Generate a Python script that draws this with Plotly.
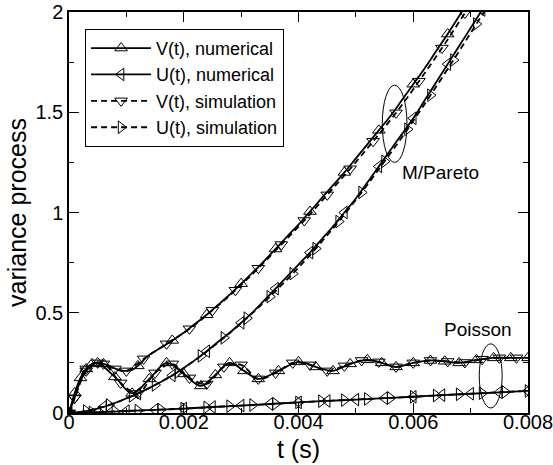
import numpy as np
import plotly.graph_objects as go

# ---------------- data ----------------
# M/Pareto, V(t) numerical
t_par_v_num = [0, 0.0001, 0.0002, 0.0003, 0.0004, 0.0005, 0.0006, 0.0007, 0.0008, 0.0009,
               0.0010, 0.0011, 0.0012, 0.0014, 0.0016, 0.0018, 0.0020, 0.0022, 0.0024,
               0.0026, 0.0028, 0.0030, 0.0032, 0.0034, 0.0036, 0.0038, 0.0040, 0.0042,
               0.0044, 0.0046, 0.0048, 0.0050, 0.0052, 0.0054, 0.0056, 0.0058, 0.0060,
               0.0062, 0.0064, 0.0066, 0.0068, 0.0070]
v_par_num = [0.0, 0.08, 0.16, 0.21, 0.24, 0.25, 0.245, 0.235, 0.222, 0.213,
             0.21, 0.215, 0.235, 0.29, 0.325, 0.362, 0.40, 0.445, 0.49,
             0.54, 0.59, 0.645, 0.70, 0.758, 0.818, 0.88, 0.94, 1.005,
             1.07, 1.135, 1.20, 1.27, 1.34, 1.41, 1.48, 1.56, 1.64,
             1.72, 1.805, 1.89, 1.98, 2.07]

# M/Pareto, V(t) simulation
t_par_v_sim = [0, 0.0001, 0.0003, 0.0005, 0.0008, 0.0010, 0.0013, 0.0017, 0.0021, 0.0025,
               0.0029, 0.0033, 0.0037, 0.0041, 0.0045, 0.0049, 0.0053, 0.0057, 0.0061,
               0.0065, 0.0069, 0.0073]
v_par_sim = [0.0, 0.075, 0.21, 0.25, 0.22, 0.21, 0.27, 0.345, 0.42, 0.512,
             0.612, 0.722, 0.84, 0.96, 1.088, 1.218, 1.355, 1.497, 1.655,
             1.82, 1.995, 2.17]

# M/Pareto, U(t) numerical
t_par_u_num = [0, 0.0002, 0.0004, 0.0006, 0.0008, 0.0010, 0.0012, 0.0014, 0.0016, 0.0018,
               0.0020, 0.0022, 0.0024, 0.0026, 0.0028, 0.0030, 0.0032, 0.0034, 0.0036,
               0.0038, 0.0040, 0.0042, 0.0044, 0.0046, 0.0048, 0.0050, 0.0052, 0.0054,
               0.0056, 0.0058, 0.0060, 0.0062, 0.0064, 0.0066, 0.0068, 0.0070, 0.0072]
u_par_num = [0.0, 0.005, 0.015, 0.03, 0.05, 0.073, 0.097, 0.125, 0.155, 0.187,
             0.225, 0.265, 0.308, 0.355, 0.40, 0.45, 0.502, 0.56, 0.62,
             0.68, 0.74, 0.80, 0.865, 0.93, 1.0, 1.07, 1.15, 1.23,
             1.31, 1.39, 1.47, 1.56, 1.65, 1.74, 1.83, 1.92, 2.01]

# M/Pareto, U(t) simulation
t_par_u_sim = [0, 0.0003, 0.0007, 0.0011, 0.0015, 0.0019, 0.0023, 0.0027, 0.0031, 0.0035,
               0.0039, 0.0043, 0.0047, 0.0051, 0.0055, 0.0059, 0.0063, 0.0067, 0.0071, 0.0075]
u_par_sim = [0.0, 0.01, 0.04, 0.085, 0.14, 0.205, 0.285, 0.375, 0.473, 0.58,
             0.695, 0.82, 0.955, 1.10, 1.255, 1.415, 1.585, 1.76, 1.94, 2.12]

# Poisson, V(t) numerical
t_poi_v_num = [0, 0.0001, 0.0002, 0.0003, 0.0004, 0.0005, 0.0008, 0.0011, 0.0014, 0.0017,
               0.0020, 0.0023, 0.00255, 0.0028, 0.00305, 0.0033, 0.00365, 0.0040, 0.0043,
               0.0046, 0.0049, 0.0052, 0.00545, 0.0057, 0.0060, 0.0063, 0.00655, 0.0068,
               0.0071, 0.0074, 0.0077, 0.0080]
v_poi_num = [0.0, 0.10, 0.175, 0.22, 0.245, 0.25, 0.18, 0.098, 0.17, 0.25,
             0.195, 0.135, 0.19, 0.25, 0.21, 0.17, 0.21, 0.255, 0.23,
             0.21, 0.245, 0.265, 0.25, 0.23, 0.25, 0.262, 0.258, 0.25,
             0.265, 0.275, 0.275, 0.275]

# Poisson, V(t) simulation
t_poi_v_sim = [0, 0.0001, 0.0003, 0.0006, 0.0009, 0.0012, 0.0015, 0.0018, 0.0021, 0.0024,
               0.0027, 0.0030, 0.0033, 0.0036, 0.0039, 0.0042, 0.0045, 0.0048, 0.0051,
               0.0054, 0.0057, 0.0060, 0.0063, 0.0066, 0.0069, 0.0072, 0.0075, 0.0078]
v_poi_sim = [0.0, 0.075, 0.22, 0.245, 0.15, 0.097, 0.20, 0.245, 0.175, 0.145,
             0.23, 0.24, 0.17, 0.20, 0.25, 0.24, 0.21, 0.235, 0.262,
             0.255, 0.23, 0.25, 0.262, 0.257, 0.252, 0.268, 0.275, 0.275]

# Poisson, U(t) numerical
t_poi_u_num = [0, 0.0005, 0.0010, 0.0015, 0.0020, 0.0025, 0.0030, 0.0035, 0.0040,
               0.0045, 0.0050, 0.0055, 0.0060, 0.0065, 0.0070, 0.0075, 0.0080]
u_poi_num = [0.0, 0.004, 0.010, 0.016, 0.022, 0.030, 0.037, 0.045, 0.053,
             0.060, 0.067, 0.074, 0.081, 0.089, 0.096, 0.103, 0.110]

# Poisson, U(t) simulation
t_poi_u_sim = [0, 0.0004, 0.0008, 0.0012, 0.0016, 0.0020, 0.0024, 0.0028, 0.0032, 0.0036,
               0.0040, 0.0044, 0.0048, 0.0052, 0.0056, 0.0060, 0.0064, 0.0068, 0.0072,
               0.0076, 0.0080]
u_poi_sim = [0.0, 0.003, 0.008, 0.012, 0.017, 0.022, 0.028, 0.034, 0.040, 0.046,
             0.053, 0.059, 0.064, 0.070, 0.075, 0.081, 0.087, 0.093, 0.099,
             0.105, 0.110]

legend_names = ["V(t), numerical", "U(t), numerical", "V(t), simulation", "U(t), simulation"]

# ---------------- figure ----------------
FONT = "Liberation Sans, Arial, Helvetica, sans-serif"
fig = go.Figure()

SYM = {
    "v_num": "triangle-up-open",
    "u_num": "triangle-left-open",
    "v_sim": "triangle-down-open",
    "u_sim": "triangle-right-open",
}
DASH = {"num": "solid", "sim": "6px,4px"}
MSIZE = 11


def add_series(t, y, kind, style, marker_step_t=None):
    t = np.asarray(t, dtype=float)
    y = np.asarray(y, dtype=float)
    fig.add_trace(go.Scatter(
        x=t, y=y, mode="lines", showlegend=False, hoverinfo="skip",
        line=dict(color="black", width=1.8, dash=DASH[style], shape="spline", smoothing=1.0),
    ))
    if marker_step_t:
        q = t / marker_step_t
        mask = np.abs(q - np.round(q)) < 1e-6
    else:
        mask = np.ones_like(t, dtype=bool)
    fig.add_trace(go.Scatter(
        x=t[mask], y=y[mask], mode="markers", showlegend=False,
        marker=dict(symbol=SYM[kind], size=MSIZE, color="black", line=dict(width=1, color="black")),
    ))


add_series(t_par_v_num, v_par_num, "v_num", "num", 0.0006)
add_series(t_par_u_num, u_par_num, "u_num", "num", 0.0006)
add_series(t_par_v_sim, v_par_sim, "v_sim", "sim")
add_series(t_par_u_sim, u_par_sim, "u_sim", "sim")
add_series(t_poi_v_num, v_poi_num, "v_num", "num")
add_series(t_poi_u_num, u_poi_num, "u_num", "num")
add_series(t_poi_v_sim, v_poi_sim, "v_sim", "sim")
add_series(t_poi_u_sim, u_poi_sim, "u_sim", "sim")

# legend entries
for name, kind, style in zip(legend_names,
                             ["v_num", "u_num", "v_sim", "u_sim"],
                             ["num", "num", "sim", "sim"]):
    fig.add_trace(go.Scatter(
        x=[None], y=[None], mode="lines+markers", name=name,
        line=dict(color="black", width=1.8, dash=DASH[style]),
        marker=dict(symbol=SYM[kind], size=MSIZE, color="black", line=dict(width=1, color="black")),
    ))

# ellipses and labels
fig.add_shape(type="circle", xref="x", yref="y", x0=0.00546, x1=0.00589, y0=1.25, y1=1.635,
              line=dict(color="black", width=1))
fig.add_shape(type="circle", xref="x", yref="y", x0=0.00715, x1=0.00755, y0=0.025, y1=0.345,
              line=dict(color="black", width=1))
fig.add_annotation(x=0.00648, y=1.2, text="M/Pareto", showarrow=False,
                   font=dict(family=FONT, size=19, color="black"))
fig.add_annotation(x=0.00713, y=0.415, text="Poisson", showarrow=False,
                   font=dict(family=FONT, size=19, color="black"))

axis_common = dict(
    showline=True, linecolor="black", linewidth=1.5, mirror="ticks",
    ticks="inside", ticklen=10, tickwidth=1, tickcolor="black",
    showgrid=False, zeroline=False, automargin=False,
    ticklabeloverflow="allow",
    tickfont=dict(family=FONT, size=20, color="black"),
)

fig.update_xaxes(
    range=[0, 0.008], dtick=0.002, tick0=0, tickformat=".3~f",
    ticklabelstandoff=-10,
    minor=dict(dtick=0.001, ticks="inside", ticklen=5, tickcolor="black", showgrid=False),
    title=dict(text="t (s)", font=dict(family=FONT, size=25, color="black"), standoff=9),
    **axis_common,
)
fig.update_yaxes(
    range=[0, 2], dtick=0.5, tick0=0,
    minor=dict(dtick=0.25, ticks="inside", ticklen=5, tickcolor="black", showgrid=False),
    title=dict(text="variance process", font=dict(family=FONT, size=25, color="black"), standoff=2),
    **axis_common,
)

fig.update_layout(
    width=553, height=465,
    margin=dict(l=69, r=25, t=12, b=52),
    plot_bgcolor="white", paper_bgcolor="white",
    font=dict(family=FONT, color="black"),
    legend=dict(
        x=0.035, y=0.958, xanchor="left", yanchor="top",
        bgcolor="white", bordercolor="black", borderwidth=1,
        font=dict(family=FONT, size=18, color="black"),
        itemwidth=60, tracegroupgap=0,
    ),
)

# remove the default page margin and any scrollbars so the figure fills the window exactly
page_fix = ("document.documentElement.style.margin='0';document.documentElement.style.overflow='hidden';"
            "document.body.style.margin='0';document.body.style.padding='0';"
            "document.body.style.overflow='hidden';")
fig.write_html("out.html", config={"displayModeBar": False, "responsive": False},
               post_script=page_fix)
